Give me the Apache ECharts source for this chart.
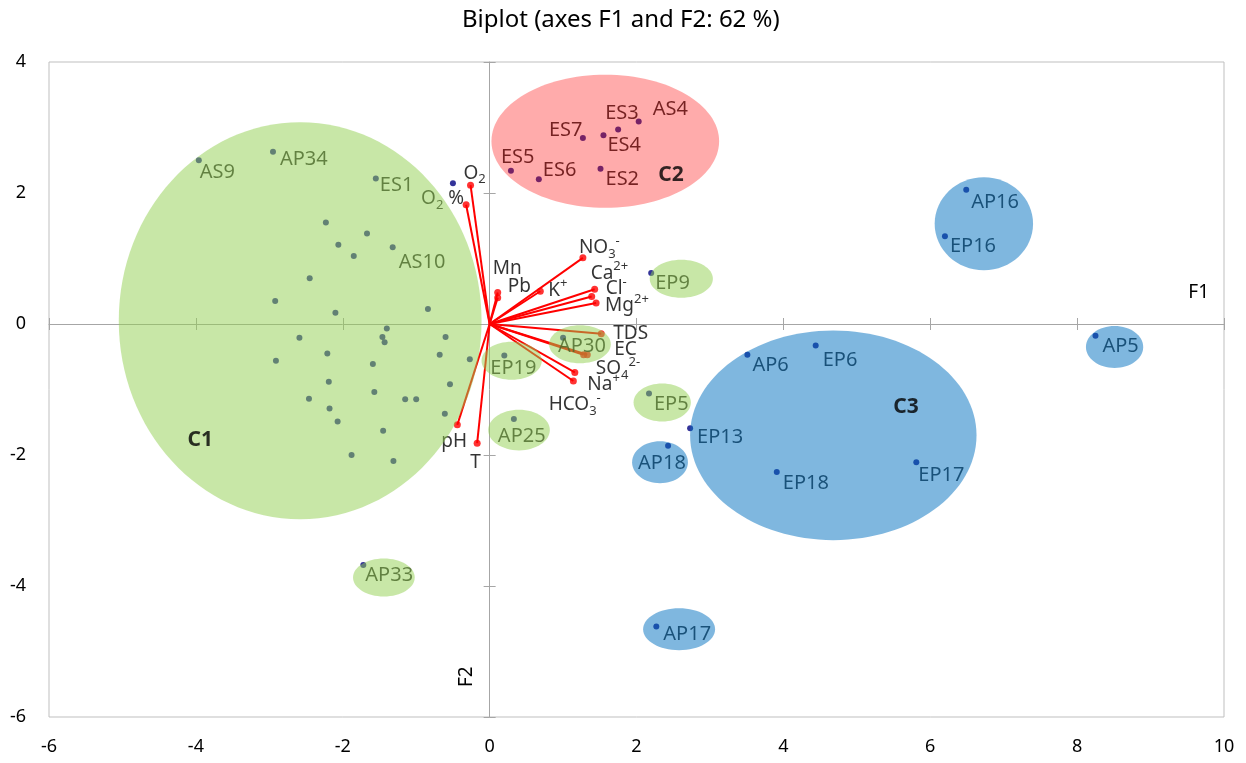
<!DOCTYPE html>
<html>
<head>
<meta charset="utf-8">
<script src="https://cdn.jsdelivr.net/npm/echarts@6/dist/echarts.min.js"></script>
<style>
html,body{margin:0;padding:0;background:#fff;}
#chart{width:1246px;height:763px;}
</style>
</head>
<body>
<div id="chart"></div>
<script>
// ---------- DATA ----------
const TITLE = 'Biplot (axes F1 and F2: 62 %)';
const xTicks = [-6, -4, -2, 0, 2, 4, 6, 8, 10];
const yTicks = [-6, -4, -2, 0, 2, 4];

// observations (F1, F2); '' = unlabeled
const obsNames = ['AS9','AP34','ES1','','AS10','','','','','','','','','','','','','','','','','','','','','','','','','','','','','',
  'EP9','AP30','EP19','AP25','EP5','AP6','EP6','EP13','AP18','EP18','EP17','AP16','EP16','AP5','AP33','AP17',
  'AS4','ES3','ES4','ES7','ES5','ES6','ES2',''];
const obsF1 = [-3.96,-2.95,-1.55,-0.50,-1.32,-2.23,-1.67,-2.06,-1.85,-2.45,-2.92,-2.10,-0.84,-1.40,-2.59,-1.46,-1.43,-0.60,-2.21,-0.68,-2.91,-1.59,-0.27,-2.19,-0.54,-1.57,-2.46,-1.15,-1.00,-2.18,-0.61,-2.07,-1.45,-1.88,
  2.20,1.00,0.20,0.33,2.17,3.51,4.44,2.73,2.43,3.91,5.81,6.49,6.20,8.25,-1.72,2.27,
  2.03,1.75,1.55,1.27,0.29,0.67,1.51,-1.31];
const obsF2 = [2.50,2.63,2.22,2.15,1.17,1.55,1.38,1.21,1.04,0.70,0.35,0.17,0.23,-0.07,-0.21,-0.20,-0.28,-0.20,-0.45,-0.47,-0.56,-0.61,-0.54,-0.88,-0.92,-1.04,-1.14,-1.15,-1.15,-1.29,-1.37,-1.49,-1.63,-2.00,
  0.78,-0.21,-0.48,-1.45,-1.06,-0.47,-0.33,-1.59,-1.86,-2.26,-2.11,2.05,1.34,-0.18,-3.68,-4.62,
  3.09,2.97,2.88,2.84,2.34,2.21,2.37,-2.09];

// variables (loadings)
const varNames = ['O2','O2 %','NO3-','Mn','Pb','K+','Ca2+','Cl-','Mg2+','TDS','EC','HCO3-','SO42-','Na+','pH','T'];
const varF1 = [-0.26,-0.32,1.27,0.11,0.11,0.69,1.43,1.39,1.45,1.52,1.33,1.28,1.16,1.14,-0.44,-0.17];
const varF2 = [2.12,1.82,1.01,0.48,0.40,0.50,0.53,0.42,0.32,-0.15,-0.47,-0.47,-0.74,-0.87,-1.54,-1.82];

// cluster ellipses: centre (F1,F2) and radii in axis units
const ellName = ['C1','EP19','AP30','AP25','EP5','EP9','AP33','C2','C3','AP18','AP17','AP16/EP16','AP5'];
const ellGroup = ['g','g','g','g','g','g','g','r','b','b','b','b','b'];
const ellCx = [-2.58,0.30,1.23,0.40,2.35,2.61,-1.44,1.575,4.68,2.32,2.58,6.73,8.51];
const ellCy = [0.05,-0.56,-0.31,-1.62,-1.20,0.69,-3.87,2.79,-1.70,-2.11,-4.66,1.53,-0.35];
const ellRx = [2.47,0.41,0.42,0.42,0.39,0.43,0.42,1.55,1.95,0.38,0.49,0.67,0.39];
const ellRy = [3.03,0.29,0.29,0.31,0.29,0.29,0.29,1.015,1.60,0.32,0.32,0.71,0.32];

const clusterNames = ['C1','C2','C3'];
const clusterF1 = [-3.94,2.47,5.67];
const clusterF2 = [-1.77,2.27,-1.27];

// ---------- STYLE ----------
const FONT = 'Noto Sans';
const obsLabelOffset = {
  AS9:[1,12], AP34:[7,8], ES1:[4,7], AS10:[6,15], EP9:[4,10], AP30:[-5,9], EP19:[-14,13], AP25:[-16,17],
  EP5:[5,11], AP6:[5,11], EP6:[7,15], EP13:[7,9], AP18:[-30,17], EP18:[6,11], EP17:[2,13], AP16:[5,13],
  EP16:[5,10], AP5:[7,11], AP33:[2,10], AP17:[7,8],
  AS4:[14,-12], ES3:[-13,-16], ES4:[4,10], ES7:[-34,-8], ES5:[-10,-13], ES6:[4,-9], ES2:[5,11]
};
const varLabelOffset = {
  'O2':[-7,-12], 'O2 %':[-2,-6], 'NO3-':[-4,-10], 'Mn':[-5,-24], 'Pb':[10,-11], 'K+':[8,-1],
  'Ca2+':[-4,-16], 'Cl-':[14,-8], 'Mg2+':[9,3], 'TDS':[12,0], 'EC':[27,-5], 'HCO3-':[-35,50],
  'SO42-':[21,-4], 'Na+':[14,4], 'pH':[-16,17], 'T':[-7,19]
};
const varRich = {
  'O2':'{n|O}{sub|2}', 'O2 %':'{n|O}{sub|2}{n| %}', 'NO3-':'{n|NO}{sub|3}{sup|-}', 'Mn':'{n|Mn}', 'Pb':'{n|Pb}',
  'K+':'{n|K}{sup|+}', 'Ca2+':'{n|Ca}{sup|2+}', 'Cl-':'{n|Cl}{sup|-}', 'Mg2+':'{n|Mg}{sup|2+}', 'TDS':'{n|TDS}',
  'EC':'{n|EC}', 'HCO3-':'{n|HCO}{sub|3}{sup|-}', 'SO42-':'{n|SO}{sub|4}{sup|2-}', 'Na+':'{n|Na}{sup|+}',
  'pH':'{n|pH}', 'T':'{n|T}'
};
const groupFill = {g:'rgba(146,208,80,0.5)', r:'rgba(255,0,0,0.33)', b:'rgba(0,112,192,0.5)'};
const AXIS_GRAY = '#A6A6A6';

// ---------- BUILD ----------
const obsData = obsNames.map((n,i)=>{
  const item = {name:n, value:[obsF1[i], obsF2[i]]};
  if (n && obsLabelOffset[n]) item.label = {show:true, offset: obsLabelOffset[n]};
  else item.label = {show:false};
  return item;
});
const varData = varNames.map((n,i)=>{
  const item = {name:n, value:[varF1[i], varF2[i]], label:{offset: varLabelOffset[n]}};
  if (n === 'O2 %') item.label.align = 'right';
  return item;
});
const ellData = ellName.map((n,i)=>[ellCx[i], ellCy[i], ellRx[i], ellRy[i]]);
const clusterData = clusterNames.map((n,i)=>({name:n, value:[clusterF1[i], clusterF2[i]]}));

const chart = echarts.init(document.getElementById('chart'), null, {renderer:'canvas'});
const valueAxisBase = (min,max,interval)=>({type:'value', min, max, interval, splitLine:{show:false}});

const option = {
  animation:false,
  title:{text:TITLE, left:457, top:3, textStyle:{fontFamily:FONT, fontSize:24, fontWeight:'normal', color:'#000'}},
  grid:{left:49, right:22, top:62, bottom:46, show:true, borderColor:'#BFBFBF', borderWidth:1, containLabel:false},
  xAxis:[
    Object.assign(valueAxisBase(xTicks[0], xTicks[xTicks.length-1], 2), {position:'bottom',
      axisLine:{show:false, onZero:false}, axisTick:{show:false},
      axisLabel:{show:true, margin:21, color:'#000', fontFamily:FONT, fontSize:18}}),
    Object.assign(valueAxisBase(xTicks[0], xTicks[xTicks.length-1], 2), {position:'bottom',
      axisLine:{show:true, onZero:true, lineStyle:{color:AXIS_GRAY, width:1}},
      axisTick:{show:true, inside:true, length:6, lineStyle:{color:AXIS_GRAY}}, axisLabel:{show:false},
      name:'F1', nameLocation:'end', nameGap:-15,
      nameTextStyle:{fontFamily:FONT, fontSize:19, color:'#000', align:'right', verticalAlign:'bottom', padding:[0,0,22,0]}}),
    Object.assign(valueAxisBase(xTicks[0], xTicks[xTicks.length-1], 2), {position:'bottom',
      axisLine:{show:false, onZero:true},
      axisTick:{show:true, inside:false, length:6, lineStyle:{color:AXIS_GRAY}}, axisLabel:{show:false}})
  ],
  yAxis:[
    Object.assign(valueAxisBase(yTicks[0], yTicks[yTicks.length-1], 2), {position:'left',
      axisLine:{show:false, onZero:false}, axisTick:{show:false},
      axisLabel:{show:true, margin:23, color:'#000', fontFamily:FONT, fontSize:18}}),
    Object.assign(valueAxisBase(yTicks[0], yTicks[yTicks.length-1], 2), {position:'left',
      axisLine:{show:true, onZero:true, lineStyle:{color:AXIS_GRAY, width:1}},
      axisTick:{show:true, inside:true, length:6, lineStyle:{color:AXIS_GRAY}}, axisLabel:{show:false},
      name:'F2', nameLocation:'start', nameGap:-30, nameRotate:90,
      nameTextStyle:{fontFamily:FONT, fontSize:19, color:'#000', align:'left', verticalAlign:'bottom', padding:[0,0,14,0]}}),
    Object.assign(valueAxisBase(yTicks[0], yTicks[yTicks.length-1], 2), {position:'left',
      axisLine:{show:false, onZero:true},
      axisTick:{show:true, inside:false, length:6, lineStyle:{color:AXIS_GRAY}}, axisLabel:{show:false}})
  ],
  series:[
    { // loading vectors
      type:'custom', name:'vectors', z:2, silent:true,
      data: varNames.map((n,i)=>[varF1[i], varF2[i]]),
      renderItem:(params, api)=>{
        const o = api.coord([0,0]);
        const p = api.coord([api.value(0), api.value(1)]);
        return {type:'line', shape:{x1:o[0], y1:o[1], x2:p[0], y2:p[1]}, style:{stroke:'#FF0000', lineWidth:2}};
      }
    },
    { // variable end points + labels
      type:'scatter', name:'variables', z:3, silent:true,
      symbol:'circle', symbolSize:7, itemStyle:{color:'#FF0000'},
      data: varData,
      label:{show:true, position:'inside', align:'left', verticalAlign:'middle', textBorderWidth:0,
        formatter:(p)=>varRich[p.name],
        rich:{
          n:{fontFamily:FONT, fontSize:19, lineHeight:26, color:'#000'},
          sup:{fontFamily:FONT, fontSize:13, lineHeight:13, verticalAlign:'top', color:'#000'},
          sub:{fontFamily:FONT, fontSize:13, lineHeight:13, verticalAlign:'bottom', color:'#000'}
        }}
    },
    { // observations
      type:'scatter', name:'observations', z:3, silent:true,
      symbol:'circle', symbolSize:6, itemStyle:{color:'#000080'},
      data: obsData,
      label:{position:'inside', align:'left', verticalAlign:'middle', color:'#000', textBorderWidth:0,
        fontFamily:FONT, fontSize:20, formatter:'{b}'}
    },
    { // cluster ellipses (translucent, over points)
      type:'custom', name:'clusters', z:5, silent:true,
      data: ellData,
      renderItem:(params, api)=>{
        const c = api.coord([api.value(0), api.value(1)]);
        const s = api.size([api.value(2), api.value(3)]);
        return {type:'ellipse', shape:{cx:c[0], cy:c[1], rx:s[0], ry:s[1]},
          style:{fill: groupFill[ellGroup[params.dataIndex]]}};
      }
    },
    { // cluster names
      type:'scatter', name:'clusterNames', z:6, silent:true,
      symbolSize:1, itemStyle:{color:'rgba(0,0,0,0)'},
      data: clusterData,
      label:{show:true, position:'inside', align:'center', verticalAlign:'middle', formatter:'{b}',
        color:'#000', textBorderWidth:0, fontFamily:FONT, fontSize:21, fontWeight:'bold'}
    }
  ]
};
chart.setOption(option);
</script>
</body>
</html>
